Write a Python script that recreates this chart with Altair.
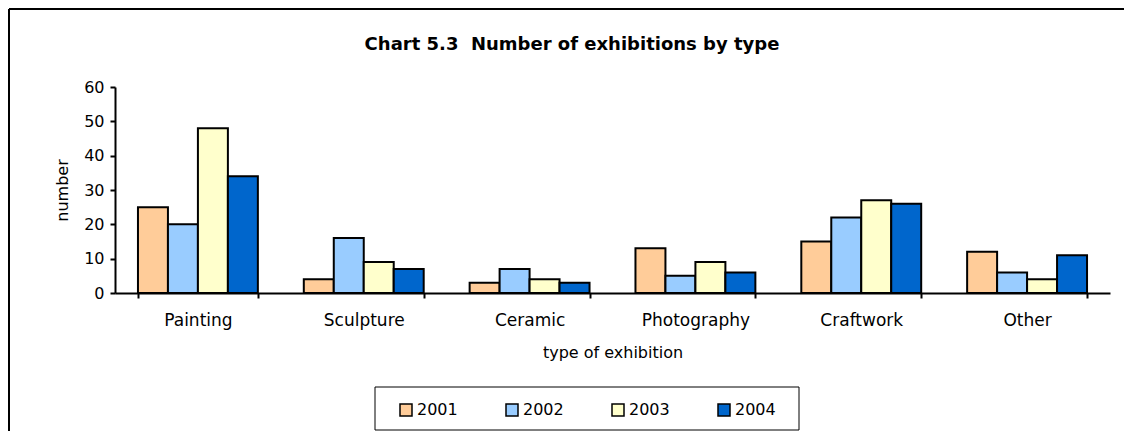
import altair as alt
import pandas as pd

categories = ["Painting", "Sculpture", "Ceramic", "Photography", "Craftwork", "Other"]
years = ["2001", "2002", "2003", "2004"]
v2001 = [25, 4, 3, 13, 15, 12]
v2002 = [20, 16, 7, 5, 22, 6]
v2003 = [48, 9, 4, 9, 27, 4]
v2004 = [34, 7, 3, 6, 26, 11]
colors = ["#FFCC99", "#99CCFF", "#FFFFCC", "#0066CC"]
y_ticks = [0, 10, 20, 30, 40, 50, 60]
title_text = "Chart 5.3\u00a0 Number of exhibitions by type"

rows = []
for yr, vals in zip(years, [v2001, v2002, v2003, v2004]):
    for c, v in zip(categories, vals):
        rows.append({"type": c, "year": yr, "number": v})
df = pd.DataFrame(rows)
one = pd.DataFrame({"k": [0]})

FONT = "DejaVu Sans"
W, H = 995, 206
PL, PT, PR, PB = 107, 79, 14, 138

bars = alt.Chart(df).mark_bar(stroke="black", strokeWidth=2, opacity=1).encode(
    x=alt.X(
        "type:N", sort=categories, title="type of exhibition",
        scale=alt.Scale(paddingInner=0.277, paddingOuter=0.1385),
        axis=alt.Axis(labelAngle=0, tickBand="extent", labelFontSize=17,
                      titleFontSize=16, labelPadding=14, titlePadding=16,
                      titleFontWeight="normal"),
    ),
    xOffset=alt.XOffset("year:N", sort=years),
    y=alt.Y(
        "number:Q", title="number",
        scale=alt.Scale(domain=[0, 60]),
        axis=alt.Axis(values=y_ticks, grid=False, labelFontSize=16,
                      titleFontSize=16, labelPadding=6, titlePadding=13,
                      titleFontWeight="normal"),
    ),
    color=alt.Color(
        "year:N",
        scale=alt.Scale(domain=years, range=colors),
        legend=alt.Legend(
            orient="none", legendX=283, legendY=315, direction="horizontal",
            title=None, symbolType="square", symbolSize=144,
            symbolStrokeColor="black", symbolStrokeWidth=1.5, symbolOpacity=1,
            labelFontSize=16, labelFont=FONT, labelColor="black",
            columnPadding=45, labelOffset=3, padding=0,
        ),
    ),
)

frame_top = alt.Chart(one).mark_rule(color="black", strokeWidth=2).encode(
    x=alt.value(-PL + 1), x2=alt.value(W + PR), y=alt.value(-PT + 1)
)
frame_left = alt.Chart(one).mark_rule(color="black", strokeWidth=2).encode(
    x=alt.value(-PL + 1), y=alt.value(-PT + 1), y2=alt.value(H + PB)
)
legend_box = alt.Chart(one).mark_rect(fillOpacity=0, stroke="black", strokeWidth=1).encode(
    x=alt.value(260), x2=alt.value(684), y=alt.value(300), y2=alt.value(343)
)
title_mark = alt.Chart(one).mark_text(
    font=FONT, fontSize=18, fontWeight="bold", color="black",
    align="center", baseline="middle",
).encode(x=alt.value(457), y=alt.value(-42), text=alt.value(title_text))

chart = alt.layer(frame_top, frame_left, legend_box, title_mark, bars).properties(
    width=W, height=H,
    background="white",
    autosize=alt.AutoSizeParams(type="none"),
    padding={"left": PL, "top": PT, "right": PR, "bottom": PB},
).configure_view(strokeWidth=0, stroke="transparent").configure_axis(
    domainColor="black", domainWidth=2, tickColor="black", tickWidth=2,
    tickSize=5, labelColor="black", titleColor="black",
    labelFont=FONT, titleFont=FONT,
)

chart.save("out.html", embed_options={"renderer": "svg", "actions": False})
